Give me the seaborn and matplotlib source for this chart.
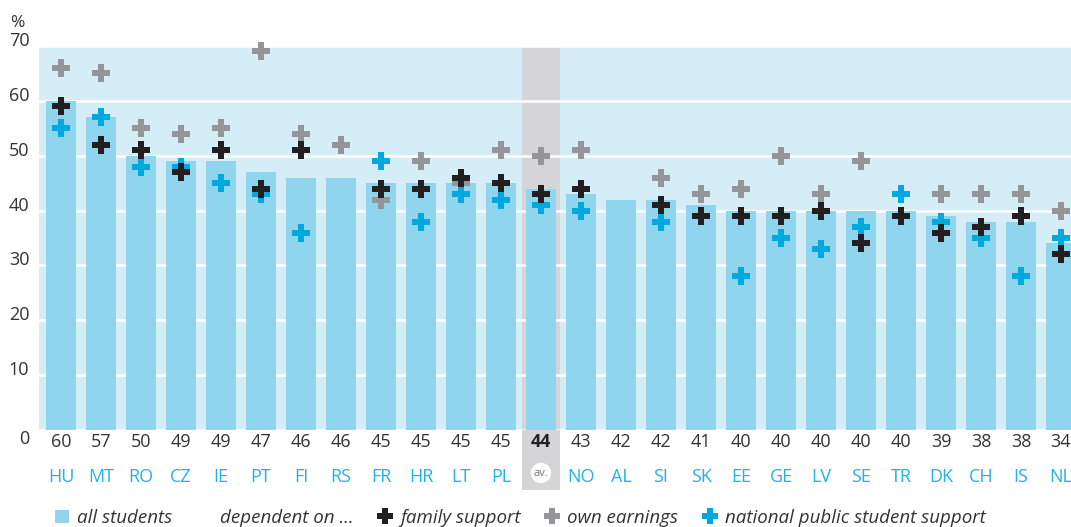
import numpy as np
import pandas as pd
import matplotlib
matplotlib.use("Agg")
import matplotlib.pyplot as plt
import matplotlib.transforms as mtransforms
from matplotlib.patches import Rectangle, Patch
from matplotlib.lines import Line2D
import seaborn as sns

nan = np.nan

# Share of students (%) by country; "av." is the cross-country average
countries = ["HU", "MT", "RO", "CZ", "IE", "PT", "FI", "RS", "FR", "HR", "LT", "PL", "av.",
             "NO", "AL", "SI", "SK", "EE", "GE", "LV", "SE", "TR", "DK", "CH", "IS", "NL"]
all_students = [60, 57, 50, 49, 49, 47, 46, 46, 45, 45, 45, 45, 44,
                43, 42, 42, 41, 40, 40, 40, 40, 40, 39, 38, 38, 34]
family_support = [59, 52, 51, 47, 51, 44, 51, nan, 44, 44, 46, 45, 43,
                  44, nan, 41, 39, 39, 39, 40, 34, 39, 36, 37, 39, 32]
own_earnings = [66, 65, 55, 54, 55, 69, 54, 52, 42, 49, 45, 51, 50,
                51, nan, 46, 43, 44, 50, 43, 49, nan, 43, 43, 43, 40]
public_support = [55, 57, 48, 48, 45, 43, 36, nan, 49, 38, 43, 42, 41,
                  40, nan, 38, nan, 28, 35, 33, 37, 43, 38, 35, 28, 35]
y_ticks = [0, 10, 20, 30, 40, 50, 60, 70]

C_BG = "#d5edf7"
C_BAR = "#8fd5ee"
C_BAND = "#d5d5d7"
C_FAMILY = "#231f20"
C_EARN = "#939598"
C_PUBLIC = "#00a8e0"
C_CODE = "#22b2e4"
C_TEXT = "#333333"

sns.set_theme(style="white")
plt.rcParams["font.family"] = ["Open Sans", "DejaVu Sans"]

fig = plt.figure(figsize=(10.71, 5.27), dpi=100)
ax = fig.add_axes([39 / 1071, 1 - 430 / 527, 1 - 39 / 1071, 384 / 527])
ax.set_facecolor(C_BG)
for s in ax.spines.values():
    s.set_visible(False)

bars = pd.DataFrame({"country": countries, "value": all_students})
sns.barplot(data=bars, x="country", y="value", color=C_BAR, saturation=1,
            width=0.73, linewidth=0, edgecolor="none", ax=ax, zorder=2)

# average column highlight, running down through the label rows
avg_idx = countries.index("av.")
trans = mtransforms.blended_transform_factory(ax.transData, ax.transAxes)
ax.add_patch(Rectangle((avg_idx - 0.475, -0.156), 0.95, 1.156, transform=trans,
                       facecolor=C_BAND, edgecolor="none", clip_on=False, zorder=0.5))

marks = pd.DataFrame({"country": countries, "family": family_support,
                      "earn": own_earnings, "public": public_support})
for col, color in [("earn", C_EARN), ("public", C_PUBLIC), ("family", C_FAMILY)]:
    sub = marks.dropna(subset=[col])
    sns.scatterplot(data=sub, x="country", y=col, marker="P", s=150, color=color,
                    linewidth=0, ax=ax, zorder=3, legend=False, clip_on=False)

ax.set_xlim(-0.55, len(countries) - 0.75)
ax.set_ylim(0, 70)
ax.set_yticks(y_ticks)
ax.yaxis.grid(True, color="white", linewidth=1.8, zorder=1)
ax.set_axisbelow(True)
ax.set_xlabel("")
ax.set_ylabel("")
ax.tick_params(axis="y", length=0, pad=7, labelsize=13, labelcolor=C_TEXT)
for lab, t in zip(ax.get_yticklabels(), y_ticks):
    lab.set_verticalalignment("top" if t == 0 else "baseline")
fig.text(10 / 1071, 1 - 27 / 527, "%", fontsize=12.5, color=C_TEXT, va="baseline")

# country codes as tick labels
ax.set_xticks(range(len(countries)))
ax.set_xticklabels(countries)
ax.tick_params(axis="x", length=0, pad=27, labelsize=13, labelcolor=C_CODE)
for lab in ax.get_xticklabels():
    if lab.get_text() == "av.":
        lab.set_color("#777777")
        lab.set_fontsize(8)
        lab.set_bbox(dict(boxstyle="circle,pad=0.25", facecolor="white", edgecolor="none"))

# value row
for i, v in enumerate(all_students):
    ax.text(i, -0.031, f"{v}", transform=trans, ha="center", va="center",
            fontsize=13, color="#222222" if i == avg_idx else C_TEXT,
            fontweight="bold" if i == avg_idx else "normal")

# legend
handles = [Patch(facecolor=C_BAR, edgecolor="none"),
           Line2D([], [], linestyle="none", marker=None),
           Line2D([], [], linestyle="none", marker="P", markersize=12, color=C_FAMILY, markeredgewidth=0),
           Line2D([], [], linestyle="none", marker="P", markersize=12, color=C_EARN, markeredgewidth=0),
           Line2D([], [], linestyle="none", marker="P", markersize=12, color=C_PUBLIC, markeredgewidth=0)]
labels = ["all students", "dependent on \u2026", "family support", "own earnings",
          "national public student support"]
leg = fig.legend(handles, labels, loc="center left", bbox_to_anchor=(38 / 1071, 1 - 518 / 527),
                 ncol=5, frameon=False, handlelength=0.75, handleheight=0.75, handletextpad=0.45,
                 columnspacing=1.3, prop={"style": "italic", "size": 13.5})
for t in leg.get_texts():
    t.set_color(C_TEXT)

fig.savefig("out.png", dpi=100)
